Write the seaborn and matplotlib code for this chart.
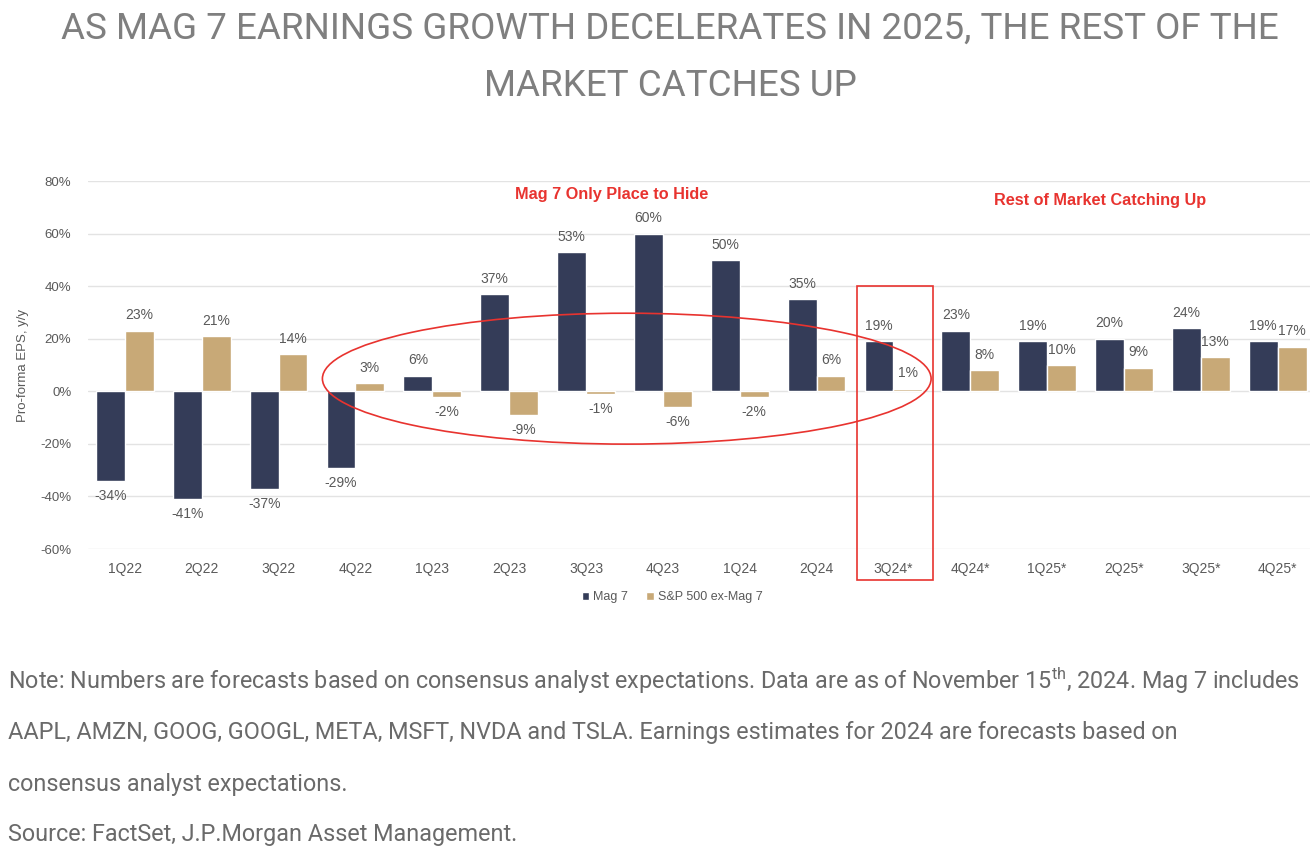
import numpy as np
import pandas as pd
import matplotlib
matplotlib.use("Agg")
import matplotlib.pyplot as plt
from matplotlib.patches import Ellipse, Rectangle
import seaborn as sns

# data
quarters = ['1Q22', '2Q22', '3Q22', '4Q22', '1Q23', '2Q23', '3Q23', '4Q23',
            '1Q24', '2Q24', '3Q24*', '4Q24*', '1Q25*', '2Q25*', '3Q25*', '4Q25*']
mag7 = [-34, -41, -37, -29, 6, 37, 53, 60, 50, 35, 19, 23, 19, 20, 24, 19]
sp_ex_mag7 = [23, 21, 14, 3, -2, -9, -1, -6, -2, 6, 1, 8, 10, 9, 13, 17]
series_names = ['Mag 7', 'S&P 500 ex-Mag 7']
y_ticks = [-60, -40, -20, 0, 20, 40, 60, 80]

title = ('AS MAG 7 EARNINGS GROWTH DECELERATES IN 2025, THE REST OF THE\n'
         'MARKET CATCHES UP')
note_lines = [
    r'Note: Numbers are forecasts based on consensus analyst expectations. Data are as of November 15$^{\mathrm{th}}$, 2024. Mag 7 includes',
    'AAPL, AMZN, GOOG, GOOGL, META, MSFT, NVDA and TSLA. Earnings estimates for 2024 are forecasts based on',
    'consensus analyst expectations.',
    'Source: FactSet, J.P.Morgan Asset Management.',
]

navy = '#343c58'
tan = '#c8a977'
red = '#e8332f'
grey = '#595959'

df = pd.DataFrame({
    'quarter': quarters * 2,
    'series': [series_names[0]] * len(quarters) + [series_names[1]] * len(quarters),
    'value': mag7 + sp_ex_mag7,
})

sns.set_theme(style='white')
plt.rcParams['font.family'] = ['Liberation Sans', 'DejaVu Sans']
plt.rcParams['mathtext.fontset'] = 'custom'
plt.rcParams['mathtext.rm'] = 'Roboto'

fig = plt.figure(figsize=(13.12, 8.58), dpi=100)
ax = fig.add_axes([88 / 1312, 1 - 549 / 858, (1310 - 88) / 1312, (549 - 181) / 858])

sns.barplot(data=df, x='quarter', y='value', hue='series', palette=[navy, tan],
            width=0.75, saturation=1, errorbar=None, ax=ax)

# value labels
for cont, vals in zip(ax.containers, [mag7, sp_ex_mag7]):
    ax.bar_label(cont, labels=[f'{v:.0f}%' for v in vals], padding=6,
                 fontsize=10, color=grey)

ax.set_ylim(-60, 80)
ax.set_xlim(-0.48, 15.42)
ax.set_yticks(y_ticks)
ax.set_yticklabels([f'{t}%' for t in y_ticks])
ax.yaxis.grid(True, color='#e3e3e3', lw=1)
ax.set_axisbelow(True)
sns.despine(ax=ax, left=True, bottom=True)
ax.tick_params(axis='both', length=0, labelsize=9.5, colors=grey)
ax.tick_params(axis='x', labelsize=10, pad=9)
ax.tick_params(axis='y', pad=12)
ax.set_xlabel('')
ax.set_ylabel('Pro-forma EPS, y/y', fontsize=9.5, color=grey, labelpad=8)

# legend under the plot
sns.move_legend(ax, 'center', bbox_to_anchor=((672 - 88) / (1310 - 88), (549 - 597) / (549 - 181)),
                ncol=2, frameon=False, title=None, fontsize=9,
                handlelength=0.6, handleheight=0.6, handletextpad=0.3, columnspacing=1.5)
for t in ax.get_legend().get_texts():
    t.set_color(grey)

# red call-outs
ax.text(6.33, 75, 'Mag 7 Only Place to Hide', color=red, fontsize=11.7,
        fontweight='bold', ha='center', va='center')
ax.text(12.69, 72.5, 'Rest of Market Catching Up', color=red, fontsize=11.7,
        fontweight='bold', ha='center', va='center')
ax.add_patch(Ellipse((6.53, 4.8), 7.92, 49.8, fill=False, edgecolor=red, lw=1.2))
ax.add_patch(Rectangle((9.52, -71.9), 0.99, 111.8, fill=False, edgecolor=red,
                       lw=1.2, clip_on=False))

fig.text(670 / 1312, 1 - 57 / 858, title, ha='center', va='center', fontsize=26.5,
         color='#7f7f7f', linespacing=1.75, family=['Roboto', 'DejaVu Sans'])

for y_px, line in zip([681, 733, 785, 834], note_lines):
    fig.text(8 / 1312, 1 - y_px / 858, line, ha='left', va='center', fontsize=16.8,
             color='#6a6a6a', family=['Roboto', 'DejaVu Sans'])

fig.savefig('out.png', dpi=100, facecolor='white')
